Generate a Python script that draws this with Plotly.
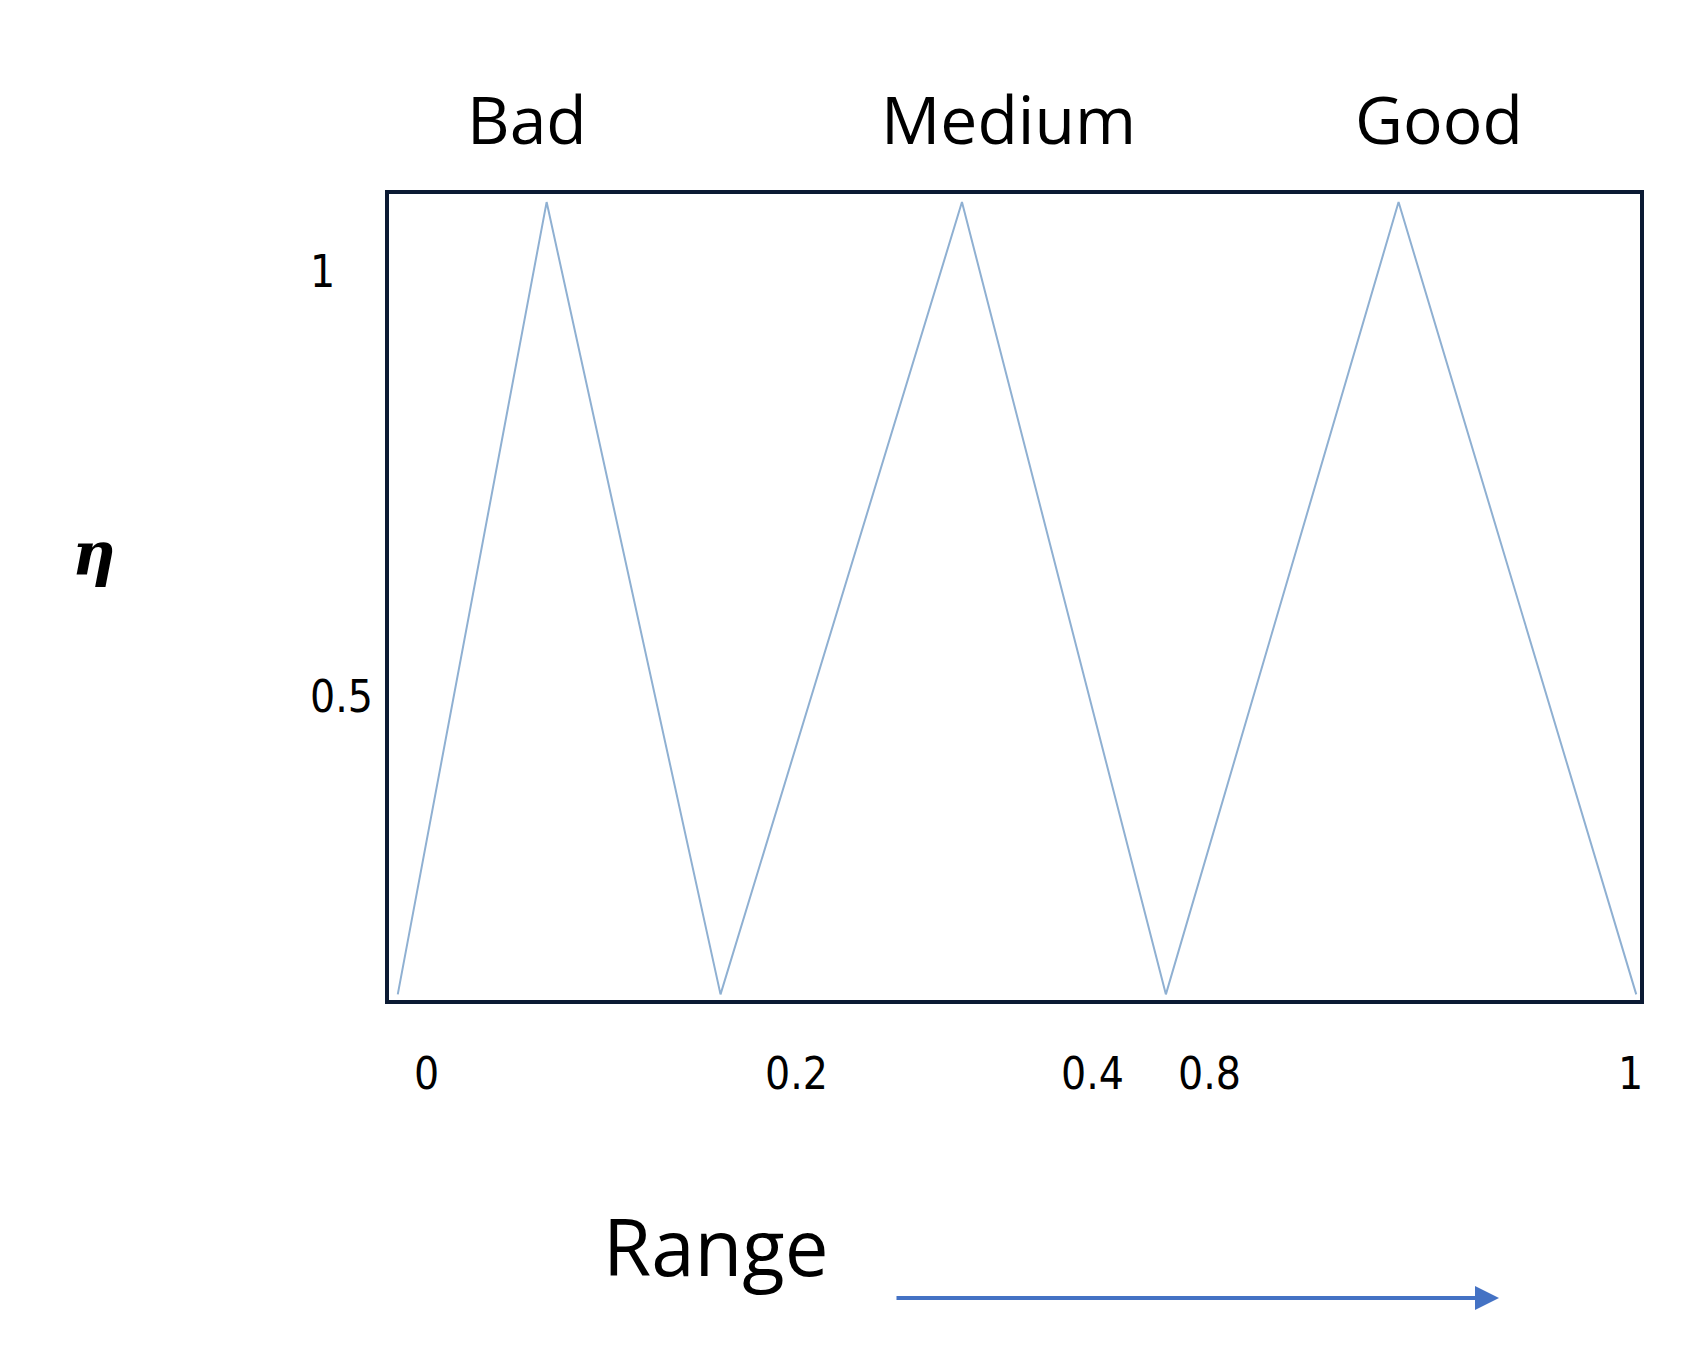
import plotly.graph_objects as go

# membership curve (fraction of range, eta)
x_vals = [0.007, 0.126, 0.265, 0.458, 0.621, 0.807, 0.997]
y_vals = [0.007, 0.99, 0.007, 0.99, 0.007, 0.99, 0.007]

x_tick_pos = [0.018, 0.299, 0.562, 0.683, 1.004]
x_tick_text = ["0", "0.2", "0.4", "0.8", "1"]
y_tick_pos = [0.938, 0.376]
y_tick_text = ["1", "0.5"]

W, H = 1696, 1355
L, R, T, B = 381, 1632, 186, 992


def px(x, y):
    return (x - L) / (R - L), (B - y) / (B - T)


fig = go.Figure(go.Scatter(x=x_vals, y=y_vals, mode="lines",
                           line=dict(color="#8fb0d2", width=2), showlegend=False))

axis = dict(range=[0, 1], showgrid=False, zeroline=False, showticklabels=False,
            showline=True, mirror=True, linecolor="#0b1a33", linewidth=4, ticks="")
fig.update_xaxes(**axis)
fig.update_yaxes(**axis)

ann = []
tick_font = dict(family="DejaVu Sans Condensed", size=44, color="black")
for v, t in zip(x_tick_pos, x_tick_text):
    ann.append(dict(x=v, y=px(0, 1093)[1], xref="paper", yref="paper", text=t,
                    showarrow=False, font=tick_font))
for v, t in zip(y_tick_pos, y_tick_text):
    ann.append(dict(x=px(300, 0)[0], y=v, xref="paper", yref="paper", text=t,
                    showarrow=False, font=tick_font))

head_font = dict(family="Open Sans", size=66, color="black")
for x, t in [(457, "Bad"), (1000, "Medium"), (1517, "Good")]:
    ax, ay = px(x, 63)
    ann.append(dict(x=ax, y=ay, xref="paper", yref="paper", text=t,
                    showarrow=False, font=head_font))

ax, ay = px(593, 1293)
ann.append(dict(x=ax, y=ay, xref="paper", yref="paper", text="Range",
                showarrow=False, font=dict(family="Open Sans", size=78, color="black")))
ax, ay = px(62, 546)
ann.append(dict(x=ax, y=ay, xref="paper", yref="paper", text="<i><b>η</b></i>",
                showarrow=False, font=dict(family="DejaVu Serif", size=60, color="black")))

# arrow
x1, y1 = px(1491, 1290)
ann.append(dict(x=x1, y=y1, ax=-(1491 - 887), ay=0, xref="paper", yref="paper",
                axref="pixel", ayref="pixel", text="", showarrow=True,
                arrowhead=2, arrowsize=1.2, arrowwidth=4, arrowcolor="#4472c4"))

fig.update_layout(width=W, height=H, margin=dict(l=L, r=W - R, t=T, b=H - B),
                  plot_bgcolor="white", paper_bgcolor="white", annotations=ann)

fig.write_html("out.html")
